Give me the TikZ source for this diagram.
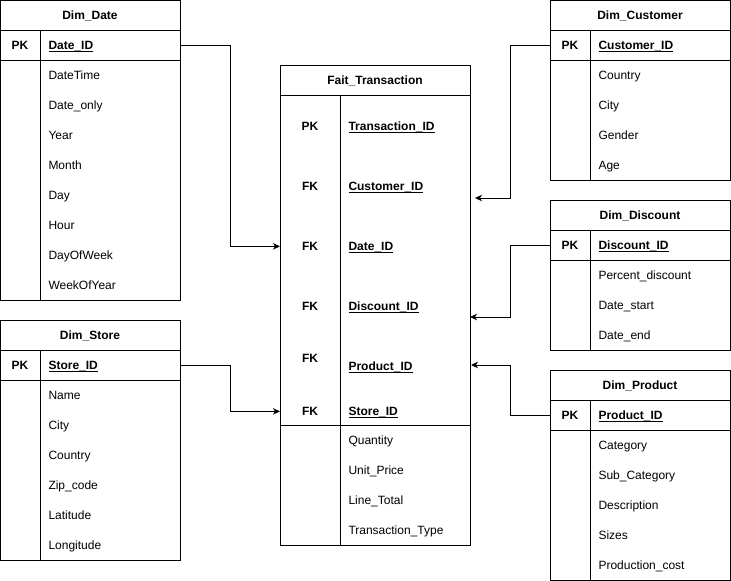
\documentclass[tikz,border=0pt]{standalone}
\usepackage{fontspec}
\setmainfont{Liberation Sans}
\usetikzlibrary{arrows.meta}

\newcommand{\erfont}{\fontsize{12}{14}\selectfont}
\newsavebox{\ulbox}
\newcommand{\keyul}[1]{\sbox\ulbox{#1}\rlap{\rule[-2pt]{\wd\ulbox}{1pt}}\usebox\ulbox}

\tikzset{
  tbl/.style={draw, anchor=north west, inner sep=0pt, outer sep=0pt},
  txt/.style={inner sep=0pt, font=\erfont},
  title/.style={txt, font=\erfont\bfseries, anchor=base},
  key/.style={txt, font=\erfont\bfseries, anchor=base},
  keyname/.style={txt, font=\erfont\bfseries, anchor=base west},
  field/.style={txt, anchor=base west},
  link/.style={-{Stealth[length=7pt,width=6.5pt,inset=2pt]}},
}

\begin{document}
\begin{tikzpicture}[x=1pt,y=-1pt,line width=1pt]
\useasboundingbox (0,0) rectangle (731,581);

% Dim_Date
\node[tbl,minimum width=180pt,minimum height=299.5pt] (dimdate) at (0.5,0.5) {};
\draw (0.5,30) -- (180.5,30) (0.5,60) -- (180.5,60) (40,30) -- (40,300);
\node[title] (date-title) at (90,19.5) {Dim\_Date};
\node[key] (date-pk) at (20,49.5) {PK};
\node[keyname] (date-id) at (48,49.5) {\keyul{Date\_ID}};
\foreach \f [count=\i] in {DateTime,Date\_only,Year,Month,Day,Hour,DayOfWeek,WeekOfYear}
  \node[field] (date-f\i) at (48,49.5+30*\i) {\f};

% Dim_Store
\node[tbl,minimum width=180pt,minimum height=240pt] (dimstore) at (0.5,320) {};
\draw (0.5,350) -- (180.5,350) (0.5,380) -- (180.5,380) (40,350) -- (40,560);
\node[title] (store-title) at (90,339.5) {Dim\_Store};
\node[key] (store-pk) at (20,369.5) {PK};
\node[keyname] (store-id) at (48,369.5) {\keyul{Store\_ID}};
\foreach \f [count=\i] in {Name,City,Country,Zip\_code,Latitude,Longitude}
  \node[field] (store-f\i) at (48,369.5+30*\i) {\f};

% Fait_Transaction
\node[tbl,minimum width=190pt,minimum height=480pt] (fait) at (280,65) {};
\draw (280,95) -- (470,95) (280,425) -- (470,425) (340,95) -- (340,545);
\node[title] (fait-title) at (375,84.5) {Fait\_Transaction};
\node[key] (fait-pk) at (310,130.5) {PK};
\node[keyname] (fait-id) at (348,130.5) {\keyul{Transaction\_ID}};
\node[key] (fait-cust) at (310,190.5) {FK};
\node[keyname] (fait-cust-id) at (348,190.5) {\keyul{Customer\_ID}};
\node[key] (fait-date) at (310,250.5) {FK};
\node[keyname] (fait-date-id) at (348,250.5) {\keyul{Date\_ID}};
\node[key] (fait-disc) at (310,310.5) {FK};
\node[keyname] (fait-disc-id) at (348,310.5) {\keyul{Discount\_ID}};
\node[key] (fait-prod) at (310,362) {FK};
\node[keyname] (fait-prod-id) at (348,370.5) {\keyul{Product\_ID}};
\node[key] (fait-store) at (310,415.5) {FK};
\node[keyname] (fait-store-id) at (348,415.5) {\keyul{Store\_ID}};
\foreach \f [count=\i] in {Quantity,Unit\_Price,Line\_Total,Transaction\_Type}
  \node[field] (fait-f\i) at (348,414.5+30*\i) {\f};

% Dim_Customer
\node[tbl,minimum width=180pt,minimum height=179.5pt] (dimcust) at (550,0.5) {};
\draw (550,30) -- (730,30) (550,60) -- (730,60) (590,30) -- (590,180);
\node[title] (cust-title) at (640,19.5) {Dim\_Customer};
\node[key] (cust-pk) at (570,49.5) {PK};
\node[keyname] (cust-id) at (598,49.5) {\keyul{Customer\_ID}};
\foreach \f [count=\i] in {Country,City,Gender,Age}
  \node[field] (cust-f\i) at (598,49.5+30*\i) {\f};

% Dim_Discount
\node[tbl,minimum width=180pt,minimum height=150pt] (dimdisc) at (550,200) {};
\draw (550,230) -- (730,230) (550,260) -- (730,260) (590,230) -- (590,350);
\node[title] (disc-title) at (640,219.5) {Dim\_Discount};
\node[key] (disc-pk) at (570,249.5) {PK};
\node[keyname] (disc-id) at (598,249.5) {\keyul{Discount\_ID}};
\foreach \f [count=\i] in {Percent\_discount,Date\_start,Date\_end}
  \node[field] (disc-f\i) at (598,249.5+30*\i) {\f};

% Dim_Product
\node[tbl,minimum width=180pt,minimum height=210pt] (dimprod) at (550,370) {};
\draw (550,400) -- (730,400) (550,430) -- (730,430) (590,400) -- (590,580);
\node[title] (prod-title) at (640,389.5) {Dim\_Product};
\node[key] (prod-pk) at (570,419.5) {PK};
\node[keyname] (prod-id) at (598,419.5) {\keyul{Product\_ID}};
\foreach \f [count=\i] in {Category,Sub\_Category,Description,Sizes,Production\_cost}
  \node[field] (prod-f\i) at (598,419.5+30*\i) {\f};

% links
\coordinate (cust-in) at (475,198);
\coordinate (disc-in) at (470,317);
\coordinate (prod-in) at (471,365);
\draw[link] (dimdate.east |- date-pk) -- ++(50,0) |- (fait.west |- fait-date);
\draw[link] (dimstore.east |- store-pk) -- ++(50,0) |- (fait.west |- fait-store);
\draw[link] (dimcust.west |- cust-pk) -- ++(-40,0) |- (cust-in);
\draw[link] (dimdisc.west |- disc-pk) -- ++(-40,0) |- (disc-in);
\draw[link] (dimprod.west |- prod-pk) -- ++(-40,0) |- (prod-in);
\end{tikzpicture}
\end{document}
